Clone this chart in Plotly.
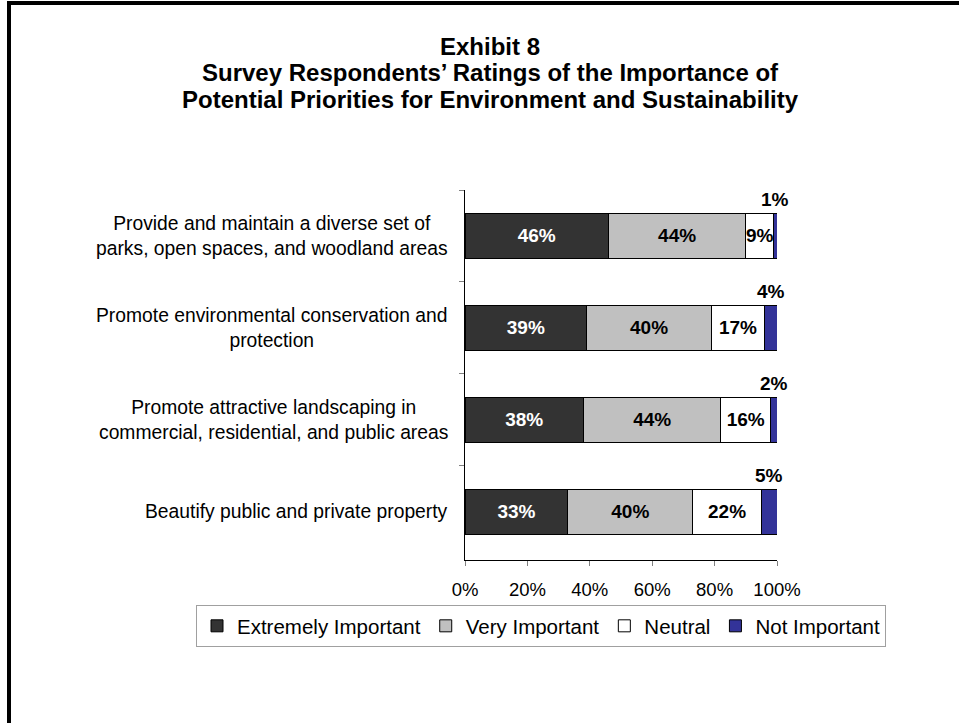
import plotly.graph_objects as go

# ---- data ----
categories = [
    "Provide and maintain a diverse set of<br>parks, open spaces, and woodland areas",
    "Promote environmental conservation and<br>protection",
    "Promote attractive landscaping in<br>commercial, residential, and public areas",
    "Beautify public and private property",
]
extremely_important = [46, 39, 38, 33]
very_important = [44, 40, 44, 40]
neutral = [9, 17, 16, 22]
not_important = [1, 4, 2, 5]
series_names = ["Extremely Important", "Very Important", "Neutral", "Not Important"]
series_colors = ["#333333", "#C0C0C0", "#FFFFFF", "#333399"]
label_colors = ["#FFFFFF", "#000000", "#000000", "#000000"]
x_ticks = [0, 20, 40, 60, 80, 100]
x_tick_labels = [f"{v}%" for v in x_ticks]
title_lines = [
    "Exhibit 8",
    "Survey Respondents’ Ratings of the Importance of",
    "Potential Priorities for Environment and Sustainability",
]

FONT = "Arial, Liberation Sans, sans-serif"
W, H = 959, 723
L, R, T, B = 465, 182, 190, 163
pw, ph = W - L - R, H - T - B


def px_x(px):
    return (px - L) / pw


def px_y(py):
    return (H - B - py) / ph


fig = go.Figure()
all_series = [extremely_important, very_important, neutral, not_important]
for i, (name, vals) in enumerate(zip(series_names, all_series)):
    show_text = i < 3
    fig.add_trace(go.Bar(
        name=name,
        y=categories,
        x=vals,
        orientation="h",
        width=0.49,
        marker=dict(color=series_colors[i], line=dict(color="#000000", width=1)),
        text=[f"{v}%" for v in vals] if show_text else None,
        textposition="inside" if show_text else "none",
        insidetextanchor="middle",
        constraintext="none",
        textangle=0,
        textfont=dict(family=FONT, size=19, color=label_colors[i], weight="bold"),
        hoverinfo="skip",
    ))

# labels of the thin "Not Important" segments, placed above the bar
for cat, a, b, c, d in zip(categories, extremely_important, very_important, neutral, not_important):
    fig.add_annotation(
        x=a + b + c + d / 2, y=cat, xref="x", yref="y",
        text=f"{d}%", showarrow=False, yshift=36,
        font=dict(family=FONT, size=19, color="#000000", weight="bold"),
    )

# category labels (centered lines, right-aligned block)
for cat in categories:
    fig.add_annotation(
        x=px_x(450), y=cat, xref="paper", yref="y",
        text=cat, showarrow=False, xanchor="right", align="center",
        font=dict(family=FONT, size=19.3, color="#000000"),
    )

# title lines
for line, ypx in zip(title_lines, [46, 73, 99]):
    fig.add_annotation(
        x=px_x(490), y=px_y(ypx), xref="paper", yref="paper",
        text=line, showarrow=False, xanchor="center", yanchor="middle",
        font=dict(family=FONT, size=24, color="#000000", weight="bold"),
    )

# page border (left and top)
fig.add_shape(type="line", xref="paper", yref="paper",
              x0=px_x(9), x1=px_x(9), y0=px_y(1), y1=px_y(723),
              line=dict(color="#000000", width=4))
fig.add_shape(type="line", xref="paper", yref="paper",
              x0=px_x(7), x1=px_x(959), y0=px_y(3), y1=px_y(3),
              line=dict(color="#000000", width=4))

fig.update_layout(
    width=W, height=H,
    margin=dict(l=L, r=R, t=T, b=B),
    barmode="stack",
    paper_bgcolor="#FFFFFF", plot_bgcolor="#FFFFFF",
    font=dict(family=FONT, color="#000000"),
    showlegend=True,
    legend=dict(
        orientation="h",
        xref="paper", x=px_x(196), xanchor="left",
        yref="paper", y=px_y(605), yanchor="top",
        bordercolor="#A0A0A0", borderwidth=1,
        font=dict(family=FONT, size=20.5, color="#000000"),
        traceorder="normal",
    ),
    xaxis=dict(
        range=[0, 100], tickmode="array", tickvals=x_ticks, ticktext=x_tick_labels,
        showgrid=False, zeroline=False,
        showline=True, linecolor="#000000", linewidth=1,
        ticks="outside", ticklen=5, tickcolor="#808080",
        ticklabelstandoff=8,
        tickfont=dict(family=FONT, size=18.5, color="#000000"),
        fixedrange=True,
    ),
    yaxis=dict(
        type="category", autorange="reversed",
        showgrid=False, zeroline=False,
        showline=True, linecolor="#000000", linewidth=1,
        ticks="outside", ticklen=5, tickcolor="#808080",
        tickson="boundaries",
        showticklabels=False,
        fixedrange=True,
    ),
)

fig.write_html("out.html", config={"displayModeBar": False},
               post_script="document.body.style.margin='0';")
